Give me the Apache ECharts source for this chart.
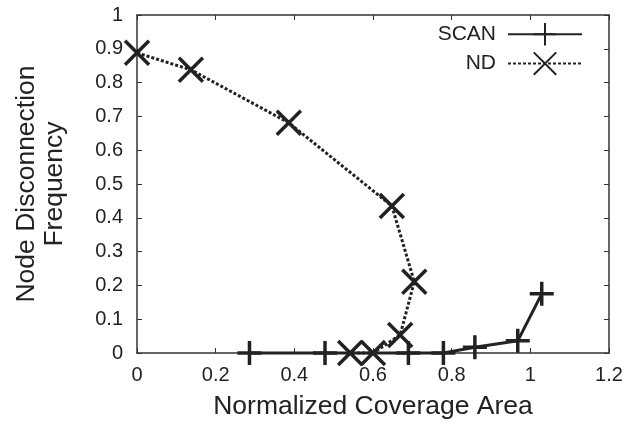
<!DOCTYPE html>
<html>
<head>
<meta charset="utf-8">
<script src="https://cdn.jsdelivr.net/npm/echarts@6/dist/echarts.min.js"></script>
<style>
html,body{margin:0;padding:0;background:#fff;}
#c{width:642px;height:426px;}
</style>
</head>
<body>
<div id="c"></div>
<script>
// ---- data ----
const seriesNames = ['SCAN', 'ND'];
const scanX = [0.286, 0.478, 0.690, 0.779, 0.859, 0.968, 1.029];
const scanY = [0, 0, 0, 0, 0.017, 0.036, 0.175];
const ndX = [0, 0.137, 0.386, 0.648, 0.705, 0.669, 0.600, 0.542];
const ndY = [0.888, 0.838, 0.681, 0.435, 0.211, 0.053, 0, 0];
const xTickLabels = ['0', '0.2', '0.4', '0.6', '0.8', '1', '1.2'];
const yTickLabels = ['0', '0.1', '0.2', '0.3', '0.4', '0.5', '0.6', '0.7', '0.8', '0.9', '1'];
const xTitle = 'Normalized Coverage Area';
const yTitle = 'Node Disconnection\nFrequency';

const ink = '#222';
const FONT = '"Liberation Sans", Arial, Helvetica, sans-serif';

function pairs(xs, ys) { return xs.map((x, i) => [x, ys[i]]); }

const plusPath = 'path://M12,0L12,24M0,12L24,12';
const crossPath = 'path://M0,0L24,24M24,0L0,24';

const axisLine = { show: true, onZero: false, lineStyle: { color: '#333', width: 1.5 } };
const axisTick = { show: true, inside: true, length: 5, lineStyle: { color: '#333', width: 1 } };

const chart = echarts.init(document.getElementById('c'), null, { renderer: 'canvas' });
chart.setOption({
  animation: false,
  backgroundColor: '#fff',
  textStyle: { fontFamily: FONT, color: ink },
  grid: { left: 137, right: 33, top: 15, bottom: 73, containLabel: false },
  legend: {
    data: seriesNames,
    orient: 'vertical',
    align: 'right',
    right: 54,
    top: 17,
    itemWidth: 74,
    itemHeight: 28,
    itemGap: 5,
    textStyle: { fontFamily: FONT, fontSize: 21, color: ink, padding: [0, 7, 0, 0] },
    selectedMode: false
  },
  xAxis: [
    {
      type: 'value', position: 'bottom', min: 0, max: 1.2, interval: 0.2,
      axisLine: axisLine, axisTick: axisTick, splitLine: { show: false },
      axisLabel: { fontSize: 20, color: ink, fontFamily: FONT, margin: 12,
        formatter: (v, i) => xTickLabels[i] },
      name: xTitle, nameLocation: 'middle', nameGap: 40,
      nameTextStyle: { fontSize: 26.5, color: ink, fontFamily: FONT }
    },
    {
      type: 'value', position: 'top', min: 0, max: 1.2, interval: 0.2,
      axisLine: axisLine, axisTick: axisTick, splitLine: { show: false },
      axisLabel: { show: false }
    }
  ],
  yAxis: [
    {
      type: 'value', position: 'left', min: 0, max: 1, interval: 0.1,
      axisLine: axisLine, axisTick: axisTick, splitLine: { show: false },
      axisLabel: { fontSize: 20, color: ink, fontFamily: FONT, margin: 14,
        formatter: (v, i) => yTickLabels[i] },
      name: yTitle, nameLocation: 'middle', nameGap: 68, nameRotate: 90,
      nameTextStyle: { fontSize: 26.5, color: ink, fontFamily: FONT, lineHeight: 28, align: 'center' }
    },
    {
      type: 'value', position: 'right', min: 0, max: 1, interval: 0.1,
      axisLine: axisLine, axisTick: axisTick, splitLine: { show: false },
      axisLabel: { show: false }
    }
  ],
  series: [
    {
      name: seriesNames[0], type: 'line', xAxisIndex: 0, yAxisIndex: 0,
      data: pairs(scanX, scanY),
      symbol: plusPath, symbolSize: 24, clip: false, z: 3,
      lineStyle: { color: ink, width: 3, type: 'solid' },
      itemStyle: { color: ink, borderColor: ink, borderWidth: 3.5 },
      emphasis: { disabled: true }
    },
    {
      name: seriesNames[1], type: 'line', xAxisIndex: 0, yAxisIndex: 0,
      data: pairs(ndX, ndY),
      symbol: crossPath, symbolSize: 24, clip: false, z: 2,
      lineStyle: { color: ink, width: 3, type: [3, 2], cap: 'butt' },
      itemStyle: { color: ink, borderColor: ink, borderWidth: 3.5 },
      emphasis: { disabled: true }
    }
  ]
});
</script>
</body>
</html>
